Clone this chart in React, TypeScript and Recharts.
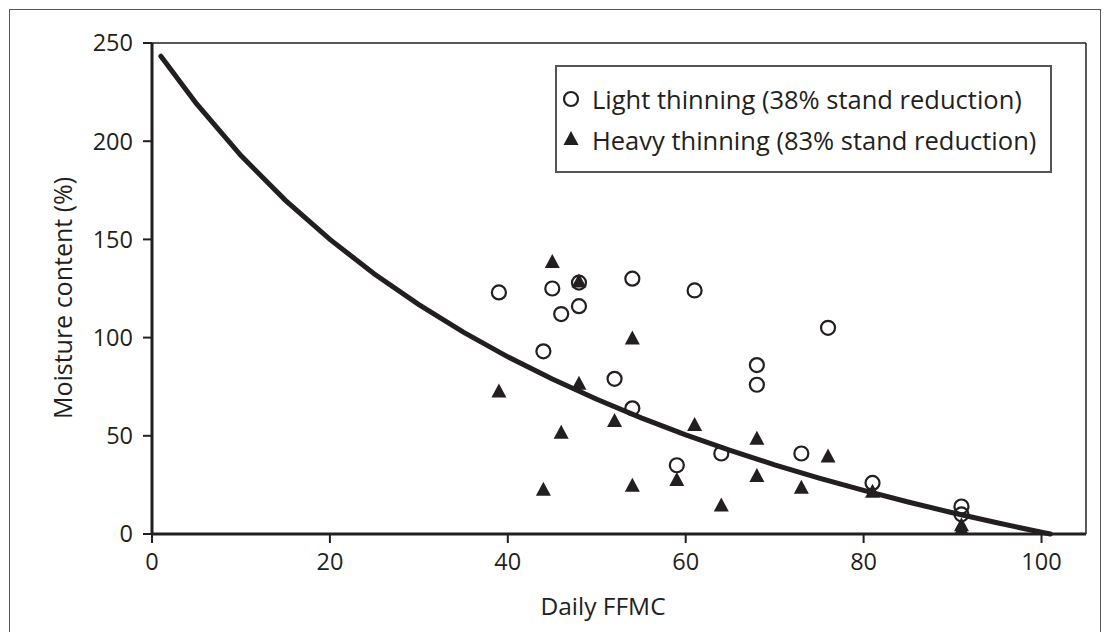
import { ComposedChart, Scatter, Line, XAxis, YAxis, Legend, ReferenceLine, Label } from "recharts";

const INK = "#231f20";
const FONT = "'Open Sans', sans-serif";

// light thinning (38% stand reduction): daily FFMC / moisture content (%)
const lightFFMC = [39, 44, 45, 46, 48, 48, 52, 54, 54, 59, 61, 64, 68, 68, 73, 76, 81, 91, 91];
const lightMoisture = [123, 93, 125, 112, 128, 116, 79, 130, 64, 35, 124, 41, 86, 76, 41, 105, 26, 14, 10];

// heavy thinning (83% stand reduction)
const heavyFFMC = [39, 44, 45, 46, 48, 48, 52, 54, 54, 59, 61, 64, 68, 68, 73, 76, 81, 91, 91];
const heavyMoisture = [72, 22, 138, 51, 128, 76, 57, 99, 24, 27, 55, 14, 48, 29, 23, 39, 21, 4, 2];

// fitted curve
const curveFFMC = [1, 5, 10, 15, 20, 25, 30, 35, 40, 45, 50, 55, 60, 65, 70, 75, 80, 85, 90, 95, 100, 101];
const curveMoisture = [243.3, 219.1, 192.7, 169.9, 150, 132.4, 116.8, 102.8, 90.2, 78.9, 68.6, 59.1, 50.5, 42.6, 35.2, 28.5, 22.2, 16.3, 10.8, 5.7, 0.9, 0];

const xTicks = [0, 20, 40, 60, 80, 100];
const yTicks = [0, 50, 100, 150, 200, 250];

const seriesNames = ["Light thinning (38% stand reduction)", "Heavy thinning (83% stand reduction)"];

const zip = (xs: number[], ys: number[]) => xs.map((x, i) => ({ x, y: ys[i] }));

const lightData = zip(lightFFMC, lightMoisture);
const heavyData = zip(heavyFFMC, heavyMoisture);
const curveData = zip(curveFFMC, curveMoisture);

const OpenCircle = (p: any) => (
  <circle cx={p.cx} cy={p.cy} r={7} fill="none" stroke={INK} strokeWidth={2.2} />
);

const Triangle = (p: any) => (
  <polygon
    points={`${p.cx},${p.cy - 9} ${p.cx - 7.5},${p.cy + 5} ${p.cx + 7.5},${p.cy + 5}`}
    fill={INK}
  />
);

const LegendBox = () => (
  <svg width={497} height={108} style={{ display: "block" }}>
    <circle cx={14} cy={32} r={7} fill="none" stroke={INK} strokeWidth={2.2} />
    <text x={35} y={32} dominantBaseline="central" fontSize={25.5} fill={INK} fontFamily={FONT}>
      {seriesNames[0]}
    </text>
    <polygon points="14,64 6.5,78 21.5,78" fill={INK} />
    <text x={35} y={73} dominantBaseline="central" fontSize={25.5} fill={INK} fontFamily={FONT}>
      {seriesNames[1]}
    </text>
  </svg>
);

export default function App() {
  const tickStyle = { fill: INK, fontSize: 23.5, fontFamily: FONT };
  return (
    <div
      style={{
        position: "relative",
        width: 1090,
        height: 640,
        marginLeft: 1,
        marginTop: 1,
        border: "1px solid #555",
        background: "#fff",
      }}
    >
      <ComposedChart width={1090} height={620} margin={{ top: 33, right: 14, bottom: 36, left: 62 }}>
        <XAxis
          dataKey="x"
          type="number"
          domain={[0, 105]}
          ticks={xTicks}
          allowDataOverflow
          axisLine={{ stroke: INK, strokeWidth: 3 }}
          tickLine={{ stroke: INK, strokeWidth: 2 }}
          tickSize={9}
          tickMargin={10}
          tick={tickStyle}
          height={60}
        >
          <Label
            content={() => (
              <text x={593} y={595} textAnchor="middle" dominantBaseline="central" fontSize={24.5} fill={INK} fontFamily={FONT}>
                Daily FFMC
              </text>
            )}
          />
        </XAxis>
        <YAxis
          dataKey="y"
          type="number"
          domain={[0, 250]}
          ticks={yTicks}
          axisLine={{ stroke: INK, strokeWidth: 3 }}
          tickLine={{ stroke: INK, strokeWidth: 2 }}
          tickSize={9}
          tickMargin={10}
          tick={tickStyle}
          width={80}
        >
          <Label
            content={() => (
              <text
                x={52}
                y={288}
                transform="rotate(-90 52 288)"
                textAnchor="middle"
                dominantBaseline="central"
                fontSize={25}
                fill={INK}
                fontFamily={FONT}
              >
                Moisture content (%)
              </text>
            )}
          />
        </YAxis>
        <ReferenceLine y={250} stroke={INK} strokeWidth={1.5} />
        <ReferenceLine x={105} stroke={INK} strokeWidth={1.5} />
        <Legend
          layout="vertical"
          align="center"
          verticalAlign="middle"
          content={() => <LegendBox />}
          wrapperStyle={{
            left: 545,
            top: 55,
            width: 497,
            height: 108,
            border: "2px solid #555",
            boxSizing: "border-box",
            background: "#fff",
          }}
        />
        <Scatter name={seriesNames[0]} data={lightData} dataKey="y" shape={OpenCircle} isAnimationActive={false} />
        <Scatter name={seriesNames[1]} data={heavyData} dataKey="y" shape={Triangle} isAnimationActive={false} />
        <Line
          data={curveData}
          dataKey="y"
          type="linear"
          stroke={INK}
          strokeWidth={5}
          dot={false}
          legendType="none"
          strokeLinecap="round"
          isAnimationActive={false}
        />
      </ComposedChart>
    </div>
  );
}
